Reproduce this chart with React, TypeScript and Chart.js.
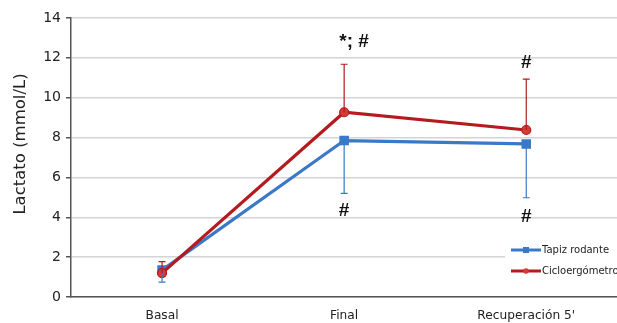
import React, { useEffect, useRef } from "react";
import { Chart, registerables } from "chart.js";

Chart.register(...registerables);

const categories = ["Basal", "Final", "Recuperación 5'"];
const seriesNames = ["Tapiz rodante", "Cicloergómetro"];
const yTitle = "Lactato (mmol/L)";
const tapizValues = [1.35, 7.85, 7.68];
const tapizErrLow = [0.75, 5.2, 4.98];
const cicloValues = [1.2, 9.27, 8.38];
const cicloErrHigh = [1.78, 11.68, 10.93];
const cicloMarks = ["", "*; #", "#"];
const cicloMarkValues = [0, 12.8, 11.75];
const tapizMarks = ["", "#", "#"];
const tapizMarkValues = [0, 4.33, 4.03];
const yTicks = [0, 2, 4, 6, 8, 10, 12, 14];

const BLUE = "#3a78c8";
const RED = "#b41a1e";
const FONT = "DejaVu Sans";

const overlayPlugin = {
  id: "overlay",
  afterDatasetsDraw(chart: any) {
    const ctx = chart.ctx;
    const x = chart.scales.x;
    const y = chart.scales.y;
    ctx.save();
    const drawErr = (vals: number[], ends: number[], color: string) => {
      ctx.strokeStyle = color;
      ctx.lineWidth = 1.2;
      vals.forEach((v, i) => {
        const px = x.getPixelForValue(i);
        const y0 = y.getPixelForValue(v);
        const y1 = y.getPixelForValue(ends[i]);
        ctx.beginPath();
        ctx.moveTo(px, y0);
        ctx.lineTo(px, y1);
        ctx.moveTo(px - 3.5, y1);
        ctx.lineTo(px + 3.5, y1);
        ctx.stroke();
      });
    };
    drawErr(tapizValues, tapizErrLow, BLUE);
    drawErr(cicloValues, cicloErrHigh, RED);
    ctx.fillStyle = "#111";
    ctx.font = "bold 19px 'Liberation Sans', Arial, sans-serif";
    ctx.textAlign = "center";
    ctx.textBaseline = "middle";
    cicloMarks.forEach((m, i) => {
      if (!m) return;
      const px = x.getPixelForValue(i) + (m.length > 1 ? 10 : 0);
      ctx.fillText(m, px, y.getPixelForValue(cicloMarkValues[i]));
    });
    tapizMarks.forEach((m, i) => {
      if (!m) return;
      ctx.fillText(m, x.getPixelForValue(i), y.getPixelForValue(tapizMarkValues[i]));
    });
    // y title
    ctx.save();
    ctx.translate(21, 144);
    ctx.rotate(-Math.PI / 2);
    ctx.font = `16.5px ${FONT}`;
    ctx.fillStyle = "#222";
    ctx.textAlign = "center";
    ctx.fillText(yTitle, 0, 0);
    ctx.restore();
    // legend
    const lx = 505;
    const ly = 239;
    ctx.fillStyle = "#ffffff";
    ctx.fillRect(lx, ly, 130, 42);
    ctx.font = `10px ${FONT}`;
    ctx.textAlign = "left";
    const ds = chart.data.datasets;
    [0, 1].forEach((k) => {
      const d = ds[k];
      const cy = ly + 11 + k * 21;
      ctx.strokeStyle = d.borderColor;
      ctx.lineWidth = 3;
      ctx.beginPath();
      ctx.moveTo(lx + 6, cy);
      ctx.lineTo(lx + 36, cy);
      ctx.stroke();
      ctx.fillStyle = d.pointBackgroundColor;
      if (k === 0) {
        ctx.fillRect(lx + 18, cy - 3, 6, 6);
      } else {
        ctx.beginPath();
        ctx.arc(lx + 21, cy, 2.8, 0, Math.PI * 2);
        ctx.fill();
      }
      ctx.fillStyle = "#222";
      ctx.fillText(d.label, lx + 37, cy + 0.5);
    });
    ctx.restore();
  },
};

export default function App() {
  const ref = useRef<HTMLCanvasElement | null>(null);
  useEffect(() => {
    if (!ref.current) return;
    const chart = new Chart(ref.current, {
      type: "line",
      data: {
        labels: categories,
        datasets: [
          {
            label: seriesNames[0],
            data: tapizValues,
            borderColor: BLUE,
            backgroundColor: BLUE,
            pointBackgroundColor: BLUE,
            pointBorderColor: BLUE,
            pointStyle: "rect",
            pointRadius: 4.5,
            borderWidth: 3.2,
            order: 1,
          },
          {
            label: seriesNames[1],
            data: cicloValues,
            borderColor: RED,
            backgroundColor: "#d43a36",
            pointBackgroundColor: "#d43a36",
            pointBorderColor: RED,
            pointBorderWidth: 1.2,
            pointStyle: "circle",
            pointRadius: 4.5,
            borderWidth: 3.2,
            order: 0,
          },
        ],
      } as any,
      options: {
        animation: false,
        responsive: false,
        layout: { padding: { top: 18, right: 3, bottom: 0, left: 0 } },
        plugins: { legend: { display: false }, tooltip: { enabled: false } },
        scales: {
          x: {
            offset: true,
            grid: { display: false },
            border: { display: true, color: "#555", width: 1.5 },
            ticks: {
              color: "#222",
              font: { family: FONT, size: 12.2 },
              padding: 4,
            },
            afterFit(scale: any) {
              scale.height = 26;
            },
          },
          y: {
            position: "left",
            min: 0,
            max: 14,
            afterBuildTicks(scale: any) {
              scale.ticks = yTicks.map((v) => ({ value: v }));
            },
            grid: {
              color: "#d4d4d4",
              lineWidth: 1.5,
              tickColor: "#555",
              tickLength: 5,
            },
            border: { display: true, color: "#555", width: 1.5 },
            ticks: {
              color: "#222",
              font: { family: FONT, size: 14 },
              padding: 5,
            },
            title: {
              display: true,
              text: "",
              color: "rgba(0,0,0,0)",
              font: { family: FONT, size: 16.5 },
              padding: { top: 12, bottom: 6 },
            },
            afterFit(scale: any) {
              scale.width = 71;
            },
          },
        },
      } as any,
      plugins: [overlayPlugin],
    });
    return () => chart.destroy();
  }, []);
  return (
    <div
      style={{
        position: "fixed",
        left: 0,
        top: 0,
        width: 617,
        height: 323,
        overflow: "hidden",
        background: "#fff",
      }}
    >
      <div style={{ width: 640, height: 323 }}>
        <canvas
          ref={ref}
          width={625}
          height={323}
          style={{ display: "block", width: 625, height: 323 }}
        />
      </div>
    </div>
  );
}
